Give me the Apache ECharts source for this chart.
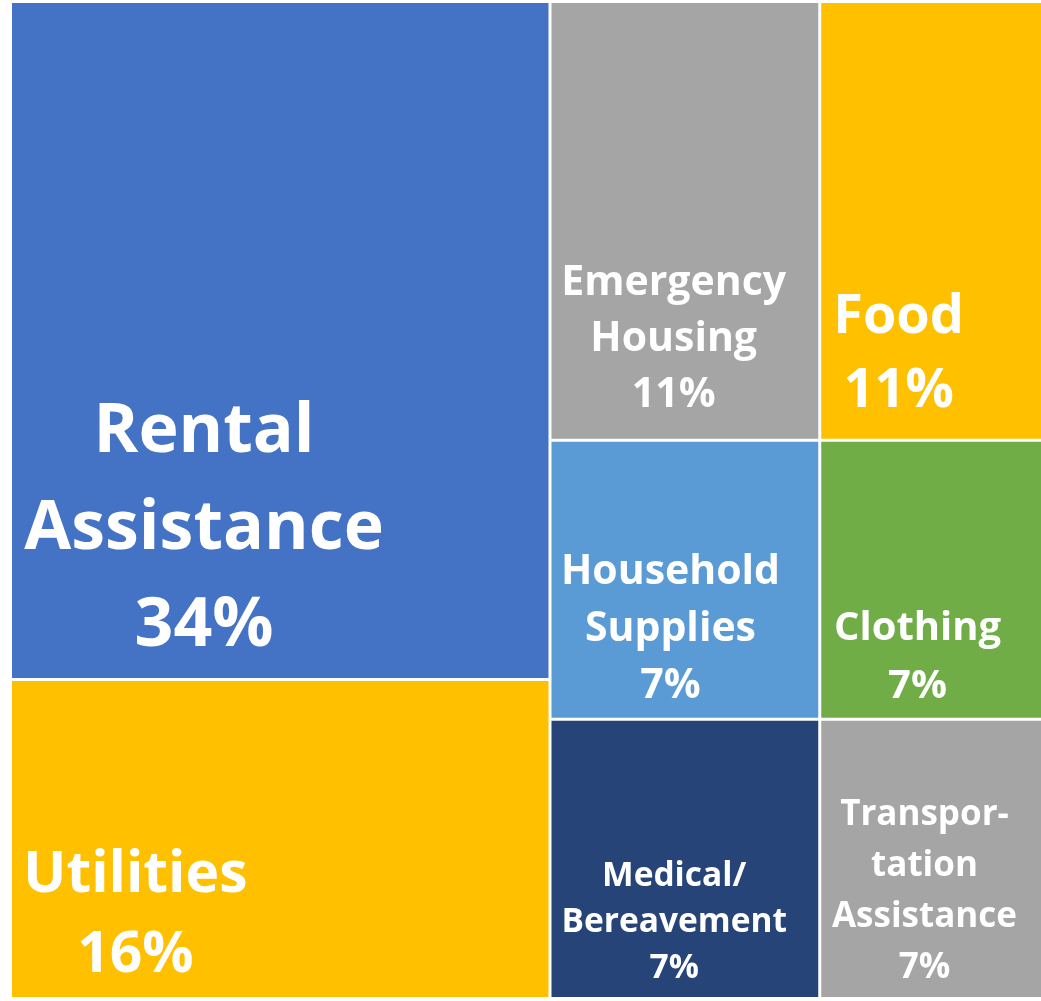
<!DOCTYPE html>
<html>
<head>
<meta charset="utf-8">
<title>Assistance treemap</title>
<script src="https://cdn.jsdelivr.net/npm/echarts@6/dist/echarts.min.js"></script>
<style>
  html, body { margin: 0; padding: 0; background: #fff; overflow: hidden; }
  /* the original picture is cropped on the right, so the chart runs past the window */
  #chart { width: 1100px; height: 1001px; }
</style>
</head>
<body>
<div id="chart"></div>
<script>
const names = [
  'Rental\nAssistance', 'Utilities',
  'Emergency\nHousing', 'Food',
  'Household\nSupplies', 'Clothing',
  'Medical/\nBereavement', 'Transpor-\ntation\nAssistance'
];
const shares = [34, 16, 11, 11, 7, 7, 7, 7];
const colors = ['#4472C4', '#FFC000', '#A5A5A5', '#FFC000', '#5B9BD5', '#70AD47', '#264478', '#A5A5A5'];

// label placement inside each cell: [x%, y%], font size, line height
const labelLayout = [
  [['35.8%', '78%'], 68, 97],
  [['23%', '74.3%'], 57, 80],
  [['45.8%', '77.3%'], 41, 56],
  [['29%', '80.6%'], 54, 74],
  [['44.6%', '68%'], 41, 57],
  [['36.1%', '78.3%'], 40, 58],
  [['46%', '73.1%'], 33.5, 46],
  [['38.7%', '61.7%'], 35, 51]
];

const leaf = i => ({
  name: names[i],
  value: shares[i],
  itemStyle: { color: colors[i] },
  label: {
    position: labelLayout[i][0],
    fontSize: labelLayout[i][1],
    lineHeight: labelLayout[i][2]
  }
});

const data = [
  { name: 'left', children: [leaf(0), leaf(1)] },
  {
    name: 'right',
    children: [
      { name: 'r1', children: [leaf(2), leaf(3)] },
      { name: 'r2', children: [leaf(4), leaf(5)] },
      { name: 'r3', children: [leaf(6), leaf(7)] }
    ]
  }
];

const chart = echarts.init(document.getElementById('chart'));

chart.setOption({
  animation: false,
  series: [
    {
      type: 'treemap',
      left: 12,
      top: 3,
      right: 12,
      bottom: 4,
      sort: false,
      squareRatio: 1,
      roam: false,
      nodeClick: false,
      breadcrumb: { show: false },
      itemStyle: { borderColor: '#fff', borderWidth: 0, gapWidth: 3 },
      label: {
        show: true,
        color: '#fff',
        fontFamily: 'Open Sans',
        fontWeight: 'bold',
        align: 'center',
        verticalAlign: 'middle',
        padding: 0,
        overflow: 'none',
        formatter: p => p.name + '\n' + p.value + '%'
      },
      emphasis: { disabled: true },
      data: data
    }
  ]
});
</script>
</body>
</html>
